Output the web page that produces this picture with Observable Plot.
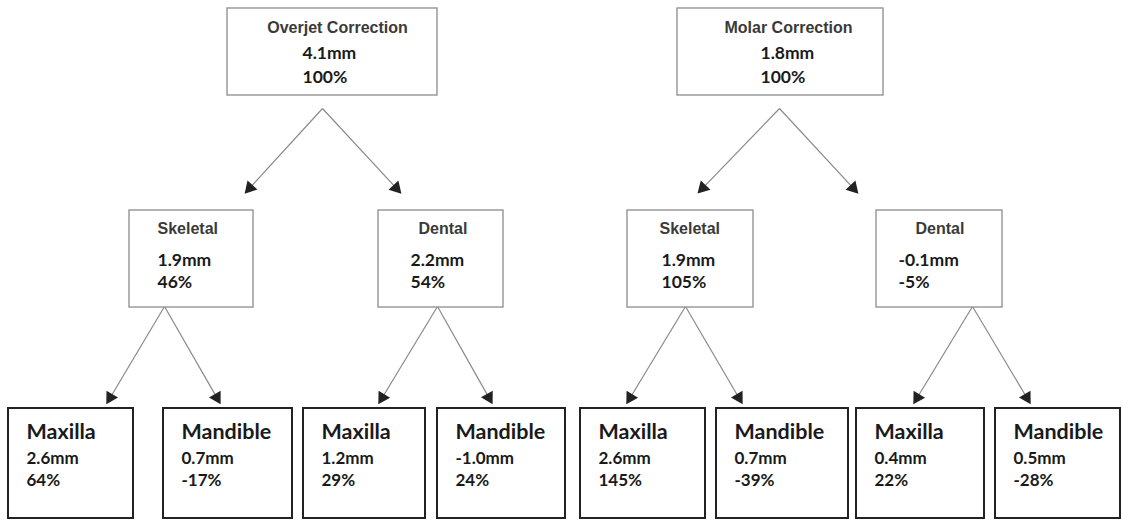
<!DOCTYPE html>
<html><head><meta charset="utf-8">
<script src="https://cdn.jsdelivr.net/npm/d3@7"></script>
<script src="https://cdn.jsdelivr.net/npm/@observablehq/plot@0.6"></script>
<style>body{margin:0;background:#fff}#chart svg{display:block}</style>
</head><body><div id="chart"></div>
<script>
// ---- data ----
const rootTitles = ["Overjet Correction", "Molar Correction"];
const rootMm = ["4.1mm", "1.8mm"];
const rootPct = ["100%", "100%"];
const compTitles = ["Skeletal", "Dental", "Skeletal", "Dental"];
const compMm = ["1.9mm", "2.2mm", "1.9mm", "-0.1mm"];
const compPct = ["46%", "54%", "105%", "-5%"];
const leafTitles = ["Maxilla", "Mandible", "Maxilla", "Mandible", "Maxilla", "Mandible", "Maxilla", "Mandible"];
const leafMm = ["2.6mm", "0.7mm", "1.2mm", "-1.0mm", "2.6mm", "0.7mm", "0.4mm", "0.5mm"];
const leafPct = ["64%", "-17%", "29%", "24%", "145%", "-39%", "22%", "-28%"];

// ---- layout (frame coordinates) ----
const L = {
  root: {y1: 8, y2: 95, box: [[227, 437], [677, 883]], titleX: [337, 788], valX: [302, 760], titleY: 32, mmY: 58, pctY: 82, apexX: [322, 779], apexY: 108},
  comp: {y1: 210, y2: 307, box: [[129, 253], [378, 503], [627, 753], [876, 1002]], titleX: [157, 418, 659, 915], valX: [157, 410, 661, 898], titleY: 233, mmY: 265, pctY: 287, tipX: [247, 398, 700, 855], tipY: 190, apexX: [164, 437, 685, 972], apexY: 306},
  leaf: {y1: 408, y2: 518, box: [[8, 133], [163, 292], [303, 425], [437, 565], [580, 705], [716, 848], [856, 984], [995, 1120]], pad: 18, titleY: 438, mmY: 463, pctY: 485, tipX: [108, 218, 380, 490, 628, 740, 915, 1028], tipY: 400}
};

// ---- build tables ----
const rootBoxes = rootTitles.map((t, i) => ({x1: L.root.box[i][0], x2: L.root.box[i][1], y1: L.root.y1, y2: L.root.y2}));
const compBoxes = compTitles.map((t, i) => ({x1: L.comp.box[i][0], x2: L.comp.box[i][1], y1: L.comp.y1, y2: L.comp.y2}));
const leafBoxes = leafTitles.map((t, i) => ({x1: L.leaf.box[i][0], x2: L.leaf.box[i][1], y1: L.leaf.y1, y2: L.leaf.y2}));

const rootTitleTexts = rootTitles.map((t, i) => ({x: L.root.titleX[i], y: L.root.titleY, text: t}));
const compTitleTexts = compTitles.map((t, i) => ({x: L.comp.titleX[i], y: L.comp.titleY, text: t}));
const valueTexts = [
  ...rootMm.map((t, i) => ({x: L.root.valX[i], y: L.root.mmY, text: t})),
  ...rootPct.map((t, i) => ({x: L.root.valX[i], y: L.root.pctY, text: t})),
  ...compMm.map((t, i) => ({x: L.comp.valX[i], y: L.comp.mmY, text: t})),
  ...compPct.map((t, i) => ({x: L.comp.valX[i], y: L.comp.pctY, text: t}))
];
const leafTitleTexts = leafTitles.map((t, i) => ({x: L.leaf.box[i][0] + L.leaf.pad, y: L.leaf.titleY, text: t}));
const leafValueTexts = [
  ...leafMm.map((t, i) => ({x: L.leaf.box[i][0] + L.leaf.pad, y: L.leaf.mmY, text: t})),
  ...leafPct.map((t, i) => ({x: L.leaf.box[i][0] + L.leaf.pad, y: L.leaf.pctY, text: t}))
];

// arrows: root -> components, component -> leaves
const arrows = [];
compTitles.forEach((t, i) => {
  const p = Math.floor(i / 2);
  arrows.push({x1: L.root.apexX[p], y1: L.root.apexY, x2: L.comp.tipX[i], y2: L.comp.tipY});
});
leafTitles.forEach((t, i) => {
  const p = Math.floor(i / 2);
  arrows.push({x1: L.comp.apexX[p], y1: L.comp.apexY, x2: L.leaf.tipX[i], y2: L.leaf.tipY});
});
const heads = arrows.map(a => {
  const dx = a.x2 - a.x1, dy = a.y2 - a.y1, len = Math.hypot(dx, dy);
  return {x: a.x2 - dx / len * 3.5, y: a.y2 - dy / len * 3.5, rotate: Math.atan2(dx, -dy) * 180 / Math.PI};
});
const lines = arrows.map(a => {
  const dx = a.x2 - a.x1, dy = a.y2 - a.y1, len = Math.hypot(dx, dy);
  return {x1: a.x1, y1: a.y1, x2: a.x2 - dx / len * 5, y2: a.y2 - dy / len * 5};
});

const chart = Plot.plot({
  width: 1122,
  height: 520,
  margin: 0,
  x: {domain: [0, 1122], range: [0, 1122], axis: null},
  y: {domain: [0, 520], range: [0, 520], axis: null},
  style: {background: "#fff"},
  marks: [
    Plot.link(lines, {x1: "x1", y1: "y1", x2: "x2", y2: "y2", stroke: "#8a8a8a", strokeWidth: 1.2}),
    Plot.dot(heads, {x: "x", y: "y", rotate: "rotate", symbol: "triangle", r: 5, fill: "#222", stroke: "none"}),
    Plot.rect(rootBoxes, {x1: "x1", x2: "x2", y1: "y1", y2: "y2", fill: "#fff", stroke: "#8c8c8c", strokeWidth: 1.3}),
    Plot.rect(compBoxes, {x1: "x1", x2: "x2", y1: "y1", y2: "y2", fill: "#fff", stroke: "#8c8c8c", strokeWidth: 1.3}),
    Plot.rect(leafBoxes, {x1: "x1", x2: "x2", y1: "y1", y2: "y2", fill: "#fff", stroke: "#222", strokeWidth: 2}),
    Plot.text(rootTitleTexts, {x: "x", y: "y", text: "text", textAnchor: "middle", lineAnchor: "bottom", fontSize: 16, fontWeight: "bold", fontFamily: "Liberation Sans, Arial, sans-serif", fill: "#3a3a3a"}),
    Plot.text(compTitleTexts, {x: "x", y: "y", text: "text", textAnchor: "start", lineAnchor: "bottom", fontSize: 16, fontWeight: "bold", fontFamily: "Liberation Sans, Arial, sans-serif", fill: "#3a3a3a"}),
    Plot.text(valueTexts, {x: "x", y: "y", text: "text", textAnchor: "start", lineAnchor: "bottom", fontSize: 17.5, fontWeight: "bold", fontFamily: "Lato, sans-serif", fill: "#1a1a1a"}),
    Plot.text(leafTitleTexts, {x: "x", y: "y", text: "text", textAnchor: "start", lineAnchor: "bottom", fontSize: 21.5, fontWeight: "bold", fontFamily: "Lato, sans-serif", fill: "#1a1a1a"}),
    Plot.text(leafValueTexts, {x: "x", y: "y", text: "text", textAnchor: "start", lineAnchor: "bottom", fontSize: 17, fontWeight: "bold", fontFamily: "Lato, sans-serif", fill: "#1a1a1a"})
  ]
});
document.getElementById("chart").appendChild(chart);
</script>
</body></html>
